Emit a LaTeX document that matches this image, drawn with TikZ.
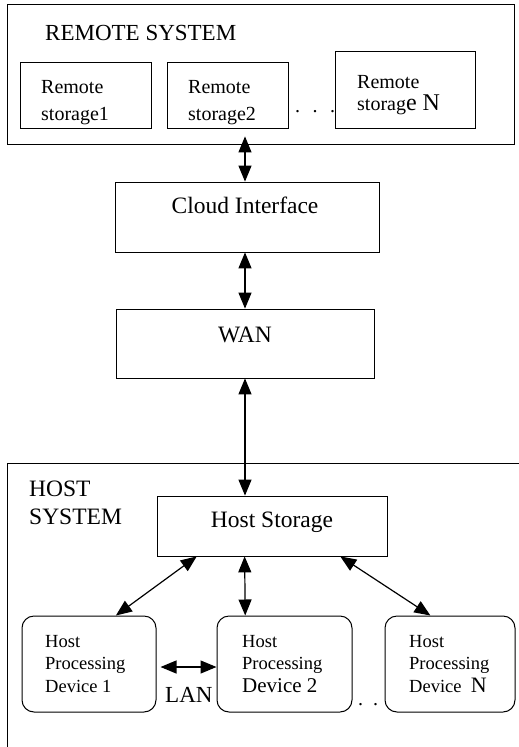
\documentclass[tikz,border=0pt]{standalone}
\usepackage{fontspec}
\setmainfont{Liberation Serif}
\usetikzlibrary{arrows.meta}

\tikzset{
  box/.style={draw, line width=0.8pt, inner sep=0pt},
  dev/.style={draw, rounded corners=12pt, line width=1pt, inner sep=0pt, minimum height=96pt},
  link/.style={<->, >={Triangle[length=16pt,width=13pt]}, line width=1.2pt},
  txt/.style={anchor=base west, align=left, inner sep=0pt},
}
\newcommand{\fsz}[2]{\fontsize{#1}{#2}\selectfont}

\begin{document}
\begin{tikzpicture}[x=1pt, y=-1pt]
\useasboundingbox (0,0) rectangle (519,747);
% remote side
\draw (260.5,74) node[box, minimum width=507pt, minimum height=140pt](remote){}
    (85.5,95) node[box, minimum width=131pt, minimum height=66pt](rs1){}
    (227.5,95) node[box, minimum width=121pt, minimum height=66pt](rs2){}
    (405,89.5) node[box, minimum width=140pt, minimum height=77pt](rsn){};
\node[txt, font=\fsz{23}{28}] (rtitle) at (45,40) {REMOTE SYSTEM};
\node[txt, font=\fsz{20}{27}] (rt1) at (41,120) {Remote\\storage1};
\node[txt, font=\fsz{20}{27}] (rt2) at (188,120) {Remote\\storage2};
\node[txt, font=\fsz{20}{22}] (rtn) at (357,110) {Remote\\storag{\fsz{24}{22}e N}};
\node[txt, font=\fsz{20}{22}] (rdots) at (295,112) {.\hspace{12.5pt}.\hspace{12.5pt}.};
% cloud and wan
\draw (247,217) node[box, minimum width=264pt, minimum height=70pt](cloud){}
    (245,343.5) node[box, minimum width=258pt, minimum height=69pt](wan){};
\node[anchor=base, inner sep=0pt, font=\fsz{23.5}{28}] (tcloud) at (245,213) {Cloud Interface};
\node[anchor=base, inner sep=0pt, font=\fsz{23.5}{28}] (twan) at (245,342) {WAN};
% host side
\draw (268.5,611.5) node[box, minimum width=523pt, minimum height=297pt](host){}
    (272,526) node[box, minimum width=230pt, minimum height=60pt](hstore){}
    (89,664) node[dev, minimum width=134pt](d1){}
    (284.5,664) node[dev, minimum width=135pt](d2){}
    (450,664) node[dev, minimum width=130pt](dn){};
\node[txt, font=\fsz{23.5}{28}] (htitle) at (29,524) {HOST\\SYSTEM};
\node[anchor=base, inner sep=0pt, font=\fsz{23.5}{28}] (thstore) at (272,527) {Host Storage};
\node[txt, font=\fsz{18.5}{22.5}] (td1) at (45,692) {Host\\Processing\\Device 1};
\node[txt, font=\fsz{18.5}{22.5}] (td2) at (242,692) {Host\\Processing\\{\fsz{21}{22.5}Device 2}};
\node[txt, font=\fsz{18.5}{22.5}] (tdn) at (409,692) {Host\\Processing\\Device\ \ {\fsz{22}{22.5}N}};
\node[txt, font=\fsz{23}{28}] (tlan) at (165,702) {LAN};
\node[txt, font=\fsz{20}{22}] (hdots) at (358,705) {.\hspace{10pt}.};
% links
\draw[link, shorten <=-8pt] (remote.south -| wan.north) -- (cloud.north -| wan.north);
\draw[link] (cloud.south -| wan.north) -- (wan.north);
\draw[link] (wan.south) -- (wan.south |- hstore.north);
\draw[link] (hstore.202.6) -- (d1.61.6);
\draw[link] (hstore.228) -- (d2.129.5);
\draw[link] (hstore.336.2) -- (dn.112.6);
\draw[link, shorten <=4pt] ([yshift=-3pt]d1.east) -- ([yshift=-3pt]d2.west);
\end{tikzpicture}
\end{document}
